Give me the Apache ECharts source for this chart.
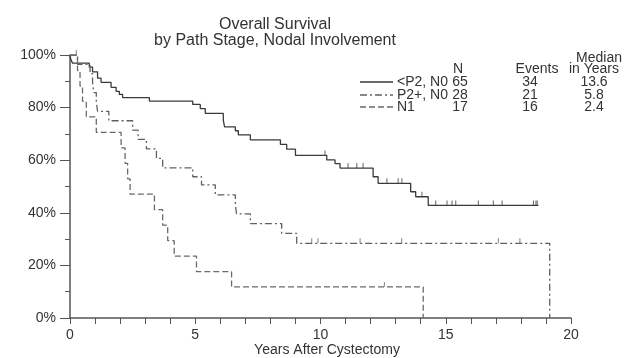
<!DOCTYPE html>
<html><head><meta charset="utf-8">
<script src="https://cdn.jsdelivr.net/npm/echarts@6/dist/echarts.min.js"></script>
<style>html,body{margin:0;padding:0;background:#fff}#c{width:632px;height:358px}</style>
</head><body><div id="c"></div>
<script>
// <P2, N0 (solid)
const solidT = [0, 0.03, 0.1, 0.77, 0.9, 1.1, 1.24, 1.64, 1.84, 1.97, 2.1, 3.17, 4.9, 5.2, 5.4, 6.12, 6.17, 6.6, 6.72, 7.2, 8.4, 8.65, 9.0, 10.25, 10.58, 10.78, 12.1, 12.3, 13.6, 13.8, 14.3, 18.7];
const solidS = [100, 98.5, 96.9, 95.4, 93.6, 91.2, 89.6, 87.7, 86.2, 85.0, 83.8, 82.5, 81.2, 79.6, 77.8, 75.2, 72.7, 71.2, 69.6, 67.7, 66.0, 64.2, 61.8, 60.1, 58.7, 57.0, 53.7, 51.2, 48.0, 46.1, 42.8, 42.8];
const solidCensor = [10.18, 11.1, 11.45, 11.7, 12.65, 13.1, 13.25, 14.05, 14.6, 15.05, 15.25, 15.4, 16.3, 16.9, 17.25, 18.5, 18.6, 18.65];
// P2+, N0 (dash-dot)
const p2T = [0, 0.3, 0.8, 0.9, 0.95, 1.05, 1.1, 1.55, 2.5, 2.72, 3.05, 3.45, 3.7, 4.9, 5.25, 5.8, 6.6, 6.65, 7.2, 8.45, 9.05, 19.15];
const p2S = [100, 96.4, 92.9, 89.3, 85.7, 82.1, 78.6, 75.0, 71.4, 67.9, 64.3, 60.7, 57.1, 53.7, 50.6, 46.8, 42.9, 39.6, 35.9, 32.2, 28.4, 0];
const p2Censor = [0.25, 9.65, 9.9, 11.58, 13.24, 17.1, 17.96];
// N1 (dashed)
const n1T = [0, 0.3, 0.4, 0.5, 0.65, 1.05, 2.04, 2.2, 2.3, 2.4, 3.37, 3.7, 3.9, 4.16, 5.05, 6.45, 14.1];
const n1S = [100, 94.1, 88.2, 82.4, 76.5, 70.6, 64.7, 58.8, 52.9, 47.1, 41.2, 35.3, 29.4, 23.5, 17.6, 11.8, 0];
const n1Censor = [12.55];

const legendNames = ['<P2, N0', 'P2+, N0', 'N1'];
const legendN = ['65', '28', '17'];
const legendEvents = ['34', '21', '16'];
const legendMedian = ['13.6', '5.8', '2.4'];
const xTicks = [0, 5, 10, 15, 20];
const yTicks = [0, 20, 40, 60, 80, 100];
const xTitle = 'Years After Cystectomy';

function pairs(T, S) { return T.map((t, i) => [t, S[i]]); }
function levelAt(T, S, t) { let s = S[0]; for (let i = 0; i < T.length; i++) { if (T[i] <= t) s = S[i]; } return s; }
function censorPts(T, S, C) { return C.map(t => [t, levelAt(T, S, t)]); }

const FONT = '"Liberation Sans", Arial, sans-serif';
const cols = ['#3a3a3a', '#606060', '#6a6a6a'];
const types = ['solid', [7, 3, 2, 3], [6, 3]];

const chart = echarts.init(document.getElementById('c'), null, { renderer: 'canvas' });

const series = [];
const curves = [[solidT, solidS, solidCensor], [p2T, p2S, p2Censor], [n1T, n1S, n1Censor]];
curves.forEach((c, i) => {
  series.push({ type: 'line', step: 'end', data: pairs(c[0], c[1]), showSymbol: false, silent: true,
    lineStyle: { color: cols[i], width: 1.3, type: types[i] }, animation: false });
  series.push({ type: 'scatter', data: censorPts(c[0], c[1], c[2]), symbol: 'rect', symbolSize: [1, 5],
    symbolOffset: [0, -2.5], itemStyle: { color: cols[i] }, silent: true, animation: false });
});

// legend table
const g = [];
const rowY = [82, 95, 107];
const txt = (x, y, s, align) => ({ type: 'text', x: x, y: y, style: { text: s, fill: '#333', font: '14px ' + FONT, textAlign: align, textVerticalAlign: 'middle' } });
g.push(txt(599, 58, 'Median', 'center'));
g.push(txt(458, 69, 'N', 'center'));
g.push(txt(537, 69, 'Events', 'center'));
g.push(txt(594, 69, 'in Years', 'center'));
legendNames.forEach((n, i) => {
  g.push({ type: 'line', shape: { x1: 360, y1: rowY[i], x2: 393, y2: rowY[i] }, style: { stroke: cols[i], lineWidth: 1.3, lineDash: types[i] === 'solid' ? null : types[i] } });
  g.push(txt(397, rowY[i], n, 'left'));
  g.push(txt(460, rowY[i], legendN[i], 'center'));
  g.push(txt(530, rowY[i], legendEvents[i], 'center'));
  g.push(txt(594, rowY[i], legendMedian[i], 'center'));
});
g.push(txt(327, 350, xTitle, 'center'));

chart.setOption({
  animation: false,
  title: { text: 'Overall Survival\nby Path Stage, Nodal Involvement', left: 270, top: 12, textAlign: 'center',
    textStyle: { fontSize: 16, fontWeight: 'normal', color: '#333', fontFamily: FONT, lineHeight: 16 } },
  grid: { left: 70, right: 61, top: 55, bottom: 40, outerBoundsMode: 'none', containLabel: false },
  xAxis: { type: 'value', min: xTicks[0], max: xTicks[xTicks.length - 1], interval: 5,
    axisLine: { lineStyle: { color: '#555', width: 1.5 } },
    axisTick: { length: 6, lineStyle: { color: '#555' } },
    minorTick: { show: true, splitNumber: 5, length: 6, lineStyle: { color: '#555' } },
    axisLabel: { fontSize: 14, color: '#333', fontFamily: FONT, margin: 10 },
    splitLine: { show: false } },
  yAxis: { type: 'value', min: yTicks[0], max: yTicks[yTicks.length - 1], interval: 20,
    axisLine: { show: true, lineStyle: { color: '#555', width: 1.5 } },
    axisTick: { show: true, length: 10, lineStyle: { color: '#555' } },
    minorTick: { show: true, splitNumber: 2, length: 5, lineStyle: { color: '#555' } },
    axisLabel: { fontSize: 14, color: '#333', fontFamily: FONT, margin: 14, formatter: '{value}%' },
    splitLine: { show: false } },
  graphic: g,
  series: series
});
</script></body></html>
